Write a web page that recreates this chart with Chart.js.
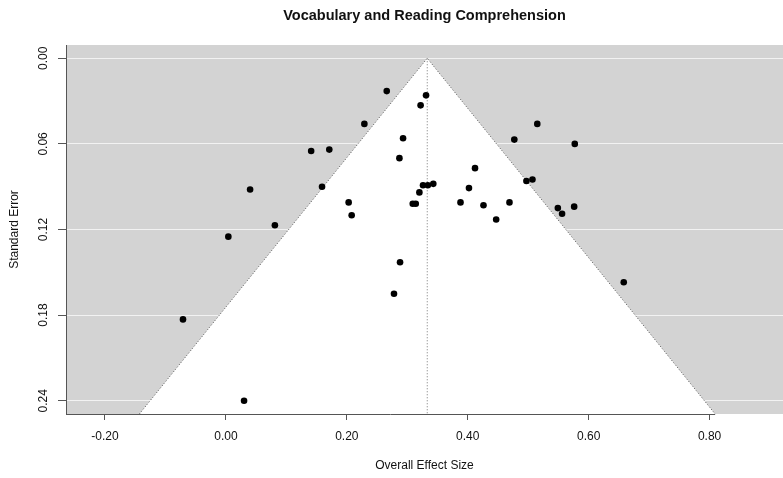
<!DOCTYPE html>
<html>
<head>
<meta charset="utf-8">
<script src="https://cdn.jsdelivr.net/npm/chart.js@4.4.0/dist/chart.umd.min.js"></script>
<style>
  html, body { margin: 0; padding: 0; background: #fff; }
</style>
</head>
<body>
<canvas id="funnelChart" width="783" height="478"></canvas>
<script>
// study effect sizes and their standard errors
var effectSizes = [0.266, 0.331, 0.322, 0.229, 0.293, 0.141, 0.171, 0.287, 0.040, 0.159,
                   0.326, 0.334, 0.343, 0.320, 0.203, 0.309, 0.314, 0.208, 0.081, 0.004,
                   0.288, 0.278, 0.515, 0.477, 0.577, 0.412, 0.497, 0.507, 0.402, 0.388,
                   0.426, 0.469, 0.447, 0.549, 0.556, 0.576, 0.658, -0.071, 0.030];
var standardErrors = [0.023, 0.026, 0.033, 0.046, 0.056, 0.065, 0.064, 0.070, 0.092, 0.090,
                      0.089, 0.089, 0.088, 0.094, 0.101, 0.102, 0.102, 0.110, 0.117, 0.125,
                      0.143, 0.165, 0.046, 0.057, 0.060, 0.077, 0.086, 0.085, 0.091, 0.101,
                      0.103, 0.101, 0.113, 0.105, 0.109, 0.104, 0.157, 0.183, 0.240];
var xTicks = [-0.2, 0, 0.2, 0.4, 0.6, 0.8];
var yTicks = [0, 0.06, 0.12, 0.18, 0.24];
var pooledEffect = 0.333;
var zCrit = 1.91;
var xMin = -0.2645, xMax = 0.9214;
var seMin = -0.0093, seMax = 0.2493;

Chart.defaults.font.family = '"Liberation Sans", Arial, sans-serif';
Chart.defaults.font.size = 12;
Chart.defaults.color = '#111';

var points = effectSizes.map(function (es, i) {
  return { x: es, y: standardErrors[i] };
});

// gray plot region, and the bottom axis line that stops at the funnel corner
var funnelBackground = {
  id: 'funnelBackground',
  beforeDraw: function (chart) {
    var a = chart.chartArea, ctx = chart.ctx;
    ctx.save();
    ctx.fillStyle = '#d3d3d3';
    ctx.fillRect(a.left, a.top, a.right - a.left, a.bottom - a.top);
    ctx.restore();
  },
  afterDatasetsDraw: function (chart) {
    var a = chart.chartArea, ctx = chart.ctx;
    var xEnd = chart.scales.x.getPixelForValue(pooledEffect + zCrit * seMax);
    ctx.save();
    ctx.strokeStyle = '#555';
    ctx.lineWidth = 1;
    ctx.beginPath();
    ctx.moveTo(a.left, Math.round(a.bottom) + 0.5);
    ctx.lineTo(xEnd, Math.round(a.bottom) + 0.5);
    ctx.stroke();
    ctx.restore();
  }
};

var ctx = document.getElementById('funnelChart').getContext('2d');
var chart = new Chart(ctx, {
  type: 'scatter',
  data: {
    datasets: [{
      label: 'Studies',
      data: points,
      pointRadius: 3.3,
      pointBackgroundColor: '#000',
      pointBorderWidth: 0,
      pointHoverRadius: 3.3
    }, {
      label: 'Pooled estimate',
      data: [{ x: pooledEffect, y: 0 }, { x: pooledEffect, y: seMax }],
      showLine: true,
      borderColor: '#777',
      borderWidth: 1,
      borderDash: [1, 2],
      pointRadius: 0
    }, {
      label: 'Pseudo confidence region',
      data: [
        { x: pooledEffect - zCrit * seMax, y: seMax },
        { x: pooledEffect, y: 0 },
        { x: pooledEffect + zCrit * seMax, y: seMax }
      ],
      showLine: true,
      borderColor: '#555',
      borderWidth: 1,
      borderDash: [1, 2],
      backgroundColor: '#fff',
      fill: { value: seMax },
      tension: 0,
      pointRadius: 0
    }]
  },
  options: {
    responsive: false,
    animation: false,
    events: [],
    layout: { autoPadding: false, padding: 0 },
    plugins: {
      legend: { display: false },
      tooltip: { enabled: false },
      title: {
        display: true,
        text: 'Vocabulary and Reading Comprehension',
        fullSize: false,
        color: '#111',
        font: { size: 14.5, weight: 'bold' },
        padding: { top: 7, bottom: 20.6 }
      }
    },
    scales: {
      x: {
        type: 'linear',
        min: xMin,
        max: xMax,
        afterBuildTicks: function (s) { s.ticks = xTicks.map(function (v) { return { value: v }; }); },
        afterFit: function (s) { s.height = 64; },
        grid: { drawOnChartArea: false, tickColor: '#555', tickLength: 6 },
        border: { display: false },
        ticks: {
          autoSkip: false, minRotation: 0, maxRotation: 0, padding: 9.5,
          callback: function (v) { return v.toFixed(2); }
        },
        title: { display: true, text: 'Overall Effect Size', padding: { top: 0, bottom: 5.1 } }
      },
      y: {
        type: 'linear',
        reverse: true,
        min: seMin,
        max: seMax,
        afterBuildTicks: function (s) { s.ticks = yTicks.map(function (v) { return { value: v }; }); },
        afterFit: function (s) { s.width = 66; },
        grid: { color: '#f2f2f2', lineWidth: 1, tickColor: '#555', tickLength: 8 },
        border: { display: true, color: '#555', width: 1 },
        ticks: {
          autoSkip: false, minRotation: 90, maxRotation: 90, crossAlign: 'center', padding: 2.8,
          callback: function (v) { return v.toFixed(2); }
        },
        title: { display: true, text: 'Standard Error', padding: { top: 7.3, bottom: 0 } }
      }
    }
  },
  plugins: [funnelBackground]
});
</script>
</body>
</html>
